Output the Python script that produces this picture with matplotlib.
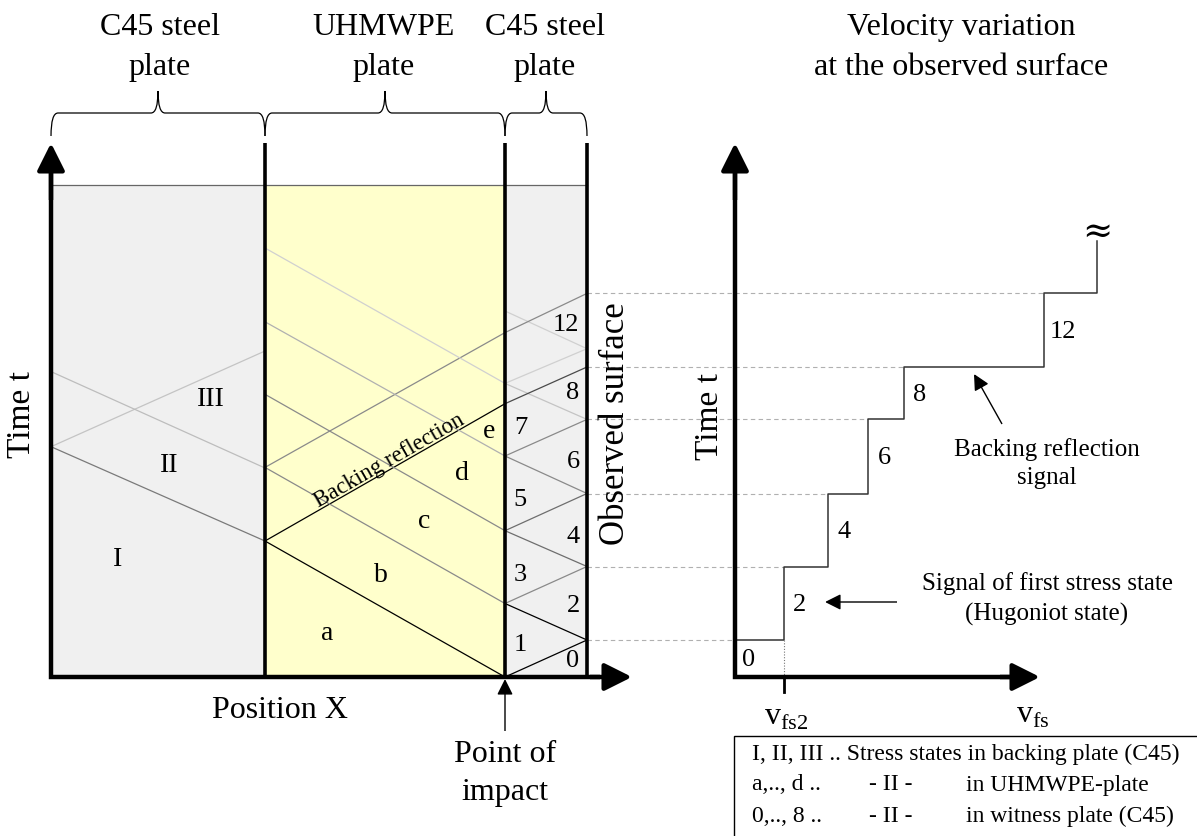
import numpy as np
import matplotlib.pyplot as plt
from matplotlib.path import Path
from matplotlib.patches import PathPatch, Rectangle

plt.rcParams['font.family'] = ['Liberation Serif', 'DejaVu Serif']
plt.rcParams['mathtext.fontset'] = 'custom'
plt.rcParams['mathtext.rm'] = 'Liberation Serif'

# ---- diagram data (canvas pixels, time runs upwards) ----
plate_x = [51, 265, 505, 587]          # axis, steel/PE, PE/witness, observed surface
plate_fill = ['#f0f0f0', '#ffffcc', '#f0f0f0']
plate_titles = ['C45 steel', 'UHMWPE', 'C45 steel']
t_impact = 677                          # t = 0 line
t_top = 185

# wave fronts in the x-t plane: (x0, t0, x1, t1, grey)
backing_waves = [
    (265, 541, 51, 446.7, '#7a7a7a'),
    (51, 446.7, 265, 351, '#c4c4c4'),
    (51, 371.6, 265, 468, '#bdbdbd'),
]
pe_waves = [
    (265, 541, 505, 677, 'black'),
    (265, 541, 505, 403.7, 'black'),
    (265, 467.4, 505, 603.5, '#8a8a8a'),
    (265, 467.4, 505, 332.6, '#8a8a8a'),
    (265, 394.3, 505, 530.7, '#8a8a8a'),
    (265, 321.8, 505, 456, '#b0b0b0'),
    (265, 248, 505, 383.4, '#d0d0d0'),
]
witness_waves = [
    (505, 677, 587, 640, 'black'),
    (587, 640, 505, 603.5, 'black'),
    (505, 603.5, 587, 566.5, '#8a8a8a'),
    (587, 566.5, 505, 530.7, '#6e6e6e'),
    (505, 530.7, 587, 493.5, '#6e6e6e'),
    (587, 493.5, 505, 456, '#8a8a8a'),
    (505, 456, 587, 419.4, '#8a8a8a'),
    (587, 419.4, 505, 383.4, '#c4c4c4'),
    (505, 403.7, 587, 367, '#4a4a4a'),
    (505, 383.4, 587, 348.7, '#d0d0d0'),
    (505, 311, 587, 348.7, '#d0d0d0'),
    (505, 332.6, 587, 293.4, '#8a8a8a'),
]

backing_states = ['I', 'II', 'III']
pe_states = ['a', 'b', 'c', 'd', 'e']
witness_states = ['0', '1', '2', '3', '4', '5', '6', '7', '8', '12']

# free surface signal: arrival times and velocity levels
arrival_t = [640, 566.5, 493.5, 419.4, 367, 293.4]
signal_v = [735, 784, 828, 868, 904, 1044, 1097]
signal_labels = ['0', '2', '4', '6', '8', '12']
signal_end_t = 241

legend_rows = [
    ('I, II, III .. Stress states in backing plate (C45)', '', ''),
    ('a,.., d ..', '- II -', 'in UHMWPE-plate'),
    ('0,.., 8 ..', '- II -', 'in witness plate (C45)'),
]

W, H = 1197, 836
fig = plt.figure(figsize=(W / 100, H / 100), dpi=100)
ax = fig.add_axes([0, 0, 1, 1])
ax.set_xlim(0, W)
ax.set_ylim(H, 0)
ax.axis('off')


def arrow(tip, tail, lw=1.0, ms=16):
    ax.annotate('', xy=tip, xytext=tail,
                arrowprops=dict(arrowstyle='-|>,head_length=0.6,head_width=0.3',
                                lw=lw, color='black', mutation_scale=ms,
                                shrinkA=0, shrinkB=0, capstyle='butt'))


def brace(x0, x1, xm, yb=136, ym=113, yt=91, r=7):
    verts = [(x0, yb), (x0, ym), (x0 + r, ym), (xm - r, ym), (xm, ym), (xm, yt),
             (xm, ym), (xm + r, ym), (x1 - r, ym), (x1, ym), (x1, yb)]
    codes = [Path.MOVETO, Path.CURVE3, Path.CURVE3, Path.LINETO, Path.CURVE3, Path.CURVE3,
             Path.CURVE3, Path.CURVE3, Path.LINETO, Path.CURVE3, Path.CURVE3]
    ax.add_patch(PathPatch(Path(verts, codes), fill=False, lw=0.9, ec='black'))


# plate fills
for i in range(3):
    ax.add_patch(Rectangle((plate_x[i], t_top), plate_x[i + 1] - plate_x[i],
                           t_impact - t_top, fc=plate_fill[i], ec='none', zorder=0))
ax.plot([plate_x[0], plate_x[-1]], [t_top, t_top], color='#666666', lw=0.9)

# wave fronts
for x0, y0, x1, y1, c in backing_waves + pe_waves + witness_waves:
    ax.plot([x0, x1], [y0, y1], color=c, lw=0.9, zorder=2)

# dashed projections to the velocity record
for i, t in enumerate(arrival_t):
    ax.plot([plate_x[-1], signal_v[i]], [t, t], color='#b0b0b0', lw=0.8,
            ls=(0, (4, 3)), zorder=1)

# plate boundaries
for x in plate_x[1:]:
    ax.plot([x, x], [143, t_impact], color='black', lw=2.6, zorder=3,
            solid_capstyle='butt')

# left axes
ax.plot([plate_x[0], plate_x[0], 600], [160, t_impact, t_impact], color='black',
        lw=3.2, solid_joinstyle='miter', solid_capstyle='butt', zorder=4)
arrow((plate_x[0], 143), (plate_x[0], 200), lw=3.2, ms=28)
arrow((632, t_impact), (590, t_impact), lw=3.2, ms=28)

# braces and plate titles
brace(plate_x[0], plate_x[1], 158)
brace(plate_x[1], plate_x[2], 385)
brace(plate_x[2], plate_x[3], 546)
for name, xc in zip(plate_titles, [160, 384, 545]):
    ax.text(xc, 35, name, fontsize=23, ha='center', va='baseline')
    ax.text(xc, 75, 'plate', fontsize=23, ha='center', va='baseline')

# state labels
for s, (x, y) in zip(backing_states, [(118, 559), (169, 466), (211, 400)]):
    ax.text(x, y, s, fontsize=20, ha='center', va='center')
for s, (x, y) in zip(pe_states, [(327, 634), (381, 576), (424, 522), (462, 473), (489, 431)]):
    ax.text(x, y, s, fontsize=20, ha='center', va='center')
witness_pos = [(573, 661), (520, 645), (573, 606), (520, 575), (573, 537),
               (520, 500), (573, 462), (521, 428), (573, 393), (566, 325)]
for s, (x, y) in zip(witness_states, witness_pos):
    ax.text(x, y, s, fontsize=19, ha='center', va='center')

ax.text(392, 466, 'Backing reflection', fontsize=16.5, rotation=29.8,
        rotation_mode='anchor', ha='center', va='baseline')

ax.text(22, 414, 'Time t', fontsize=24, rotation=90, ha='center', va='center')
ax.text(616, 424, 'Observed surface', fontsize=25, rotation=90, ha='center', va='center')
ax.text(280, 711, 'Position X', fontsize=23, ha='center', va='center')
arrow((505, 679), (505, 731), lw=1.0, ms=16)
ax.text(505, 762, 'Point of', fontsize=23, ha='center', va='baseline')
ax.text(505, 800, 'impact', fontsize=23, ha='center', va='baseline')

# ---- velocity record ----
ax.text(961, 35, 'Velocity variation', fontsize=23, ha='center', va='baseline')
ax.text(961, 75, 'at the observed surface', fontsize=23, ha='center', va='baseline')

v0 = signal_v[0]
ax.plot([v0, v0, 1010], [160, t_impact, t_impact], color='black',
        lw=3.2, solid_joinstyle='miter', solid_capstyle='butt', zorder=4)
arrow((v0, 143), (v0, 200), lw=3.2, ms=28)
arrow((1040, t_impact), (1000, t_impact), lw=3.2, ms=28)

t_all = np.array([t_impact] + arrival_t + [signal_end_t])
xs = np.repeat(signal_v, 2)
ys = np.repeat(t_all, 2)[1:-1]
ax.plot(xs, ys, color='#333333', lw=1.1, zorder=2)
ax.text(signal_v[-1], 232, '≈', fontsize=26, ha='center', va='center',
        family=['DejaVu Serif'])

for i, lab in enumerate(signal_labels):
    top = arrival_t[i]
    bot = t_impact if i == 0 else arrival_t[i - 1]
    dx = 14 if i == 0 else (19 if len(lab) > 1 else 16)
    ax.text(signal_v[i] + dx, (top + bot) / 2 + 2, lab, fontsize=19, ha='center', va='center')

# first stress state marker on the velocity axis
ax.plot([signal_v[1], signal_v[1]], [arrival_t[0], t_impact], color='#777777',
        lw=0.8, ls=(0, (1, 1.5)))
ax.plot([signal_v[1], signal_v[1]], [t_impact, 692], color='black', lw=2.0)
ax.text(signal_v[1] + 2, 718, r'v$_{\mathregular{fs2}}$', fontsize=23, ha='center', va='center')
ax.text(1033, 716, r'v$_{\mathregular{fs}}$', fontsize=23, ha='center', va='center')

ax.text(710, 417, 'Time t', fontsize=24, rotation=90, ha='center', va='center')

ax.text(1047, 450, 'Backing reflection', fontsize=18, ha='center', va='center')
ax.text(1047, 478, 'signal', fontsize=18, ha='center', va='center')
arrow((974, 374), (1002, 424), lw=1.0, ms=16)

ax.text(1047, 584, 'Signal of first stress state', fontsize=18, ha='center', va='center')
ax.text(1047, 614, '(Hugoniot state)', fontsize=18, ha='center', va='center')
arrow((825, 602), (897, 602), lw=1.0, ms=16)

# legend box (runs off the right and bottom edges)
ax.add_patch(Rectangle((734, 736), 500, 140, fc='white', ec='black', lw=1.0))
for i, (a, b, c) in enumerate(legend_rows):
    y = 754 + 31 * i
    ax.text(752, y, a, fontsize=17, ha='left', va='center')
    if b:
        ax.text(869, y, b, fontsize=17, ha='left', va='center')
        ax.text(966, y, c, fontsize=17, ha='left', va='center')

fig.savefig('out.png', dpi=100)
